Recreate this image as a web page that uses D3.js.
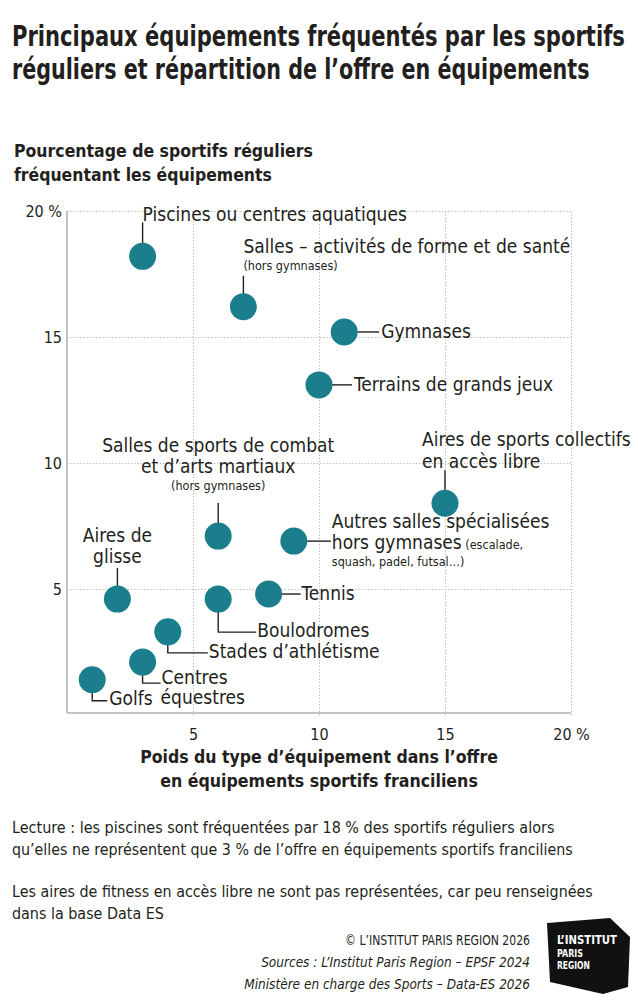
<!DOCTYPE html>
<html>
<head>
<meta charset="utf-8">
<script src="https://cdn.jsdelivr.net/npm/d3@7"></script>
<style>
  body { margin: 0; background: #fff; }
  text { font-family: "Liberation Sans Narrow", "Arial Narrow", "DejaVu Sans Condensed", sans-serif; fill: #231f20; }
</style>
</head>
<body>
<div id="chart"></div>
<script>
// equipment types, share of the offer (x, %) and share of regular users (y, %)
var names = [
  "Piscines", "Salles forme", "Gymnases", "Terrains de grands jeux",
  "Aires de sports collectifs", "Salles de combat", "Autres salles",
  "Aires de glisse", "Boulodromes", "Tennis", "Stades d'athlétisme",
  "Centres équestres", "Golfs"
];
var offerShare = [3, 7, 11, 10, 15, 6, 9, 2, 6, 8, 4, 3, 1];
var userShare = [18.2, 16.2, 15.2, 13.1, 8.4, 7.1, 6.9, 4.6, 4.6, 4.8, 3.3, 2.1, 1.4];
var xTicks = [5, 10, 15, 20];
var yTicks = [5, 10, 15, 20];

// label layout: leader path and text lines, relative to the dot centre
var labelLayout = [
  { leader: [[0, -13], [0, -34]], lines: [{ t: "Piscines ou centres aquatiques", dx: 0, dy: -35 }] },
  { leader: [[0, -13], [0, -31]], lines: [{ t: "Salles – activités de forme et de santé", dx: 0, dy: -54 },
                                         { t: "(hors gymnases)", dx: 0, dy: -37, small: true }] },
  { leader: [[13, 0], [35, 0]], lines: [{ t: "Gymnases", dx: 37, dy: 6 }] },
  { leader: [[13, 0], [33, 0]], lines: [{ t: "Terrains de grands jeux", dx: 35, dy: 6 }] },
  { leader: [[0, -13], [0, -33]], lines: [{ t: "Aires de sports collectifs", dx: -23, dy: -57 },
                                         { t: "en accès libre", dx: -23, dy: -35 }] },
  { leader: [[0, -13], [0, -33]], lines: [{ t: "Salles de sports de combat", dx: 0, dy: -84, mid: true },
                                         { t: "et d’arts martiaux", dx: 0, dy: -63, mid: true },
                                         { t: "(hors gymnases)", dx: 0, dy: -46, mid: true, small: true }] },
  { leader: [[13, 0], [37, 0]], lines: [{ t: "Autres salles spécialisées", dx: 38, dy: -13 },
                                       { t: "hors gymnases", dx: 38, dy: 8, extra: " (escalade," },
                                       { t: "squash, padel, futsal…)", dx: 38, dy: 25, small: true }] },
  { leader: [[0, -13], [0, -31]], lines: [{ t: "Aires de", dx: 0, dy: -57, mid: true },
                                         { t: "glisse", dx: 0, dy: -36, mid: true }] },
  { leader: [[0, 13], [0, 33], [38, 33]], lines: [{ t: "Boulodromes", dx: 39, dy: 38 }] },
  { leader: [[13, 0], [32, 0]], lines: [{ t: "Tennis", dx: 33, dy: 6 }] },
  { leader: [[0, 13], [0, 21], [40, 21]], lines: [{ t: "Stades d’athlétisme", dx: 41, dy: 26 }] },
  { leader: [[0, 13], [0, 21], [18, 21]], lines: [{ t: "Centres", dx: 19, dy: 22 },
                                                 { t: "équestres", dx: 18, dy: 42 }] },
  { leader: [[0, 13], [0, 21], [15, 21]], lines: [{ t: "Golfs", dx: 17, dy: 25 }] }
];

var svgWidth = 638;
var svgHeight = 1000;
var margin = { top: 211, right: 67, bottom: 285, left: 67 };
var width = svgWidth - margin.left - margin.right;
var height = 504;

var teal = "#1b7e8d";

var svg = d3.select("#chart")
  .append("svg")
  .attr("width", svgWidth)
  .attr("height", svgHeight);

// squeeze a text horizontally so it spans w pixels (the original uses a condensed face)
function fitText(parent, str, x, y, w, size, opts) {
  opts = opts || {};
  var t = parent.append("text")
    .attr("text-anchor", opts.anchor || "start")
    .style("font-size", size + "px")
    .style("font-weight", opts.weight || "normal")
    .style("font-style", opts.italic ? "italic" : "normal")
    .text(str);
  if (opts.fill) t.style("fill", opts.fill);
  var s = Math.min(1, w / t.node().getComputedTextLength());
  t.attr("transform", `translate(${x}, ${y}) scale(${s}, 1)`);
  return t;
}

// title
var title = ["Principaux équipements fréquentés par les sportifs",
             "réguliers et répartition de l’offre en équipements"];
title.forEach(function (t, i) {
  fitText(svg, t, 12, 46 + i * 33, i === 0 ? 613 : 578, 29, { weight: "bold" });
});

// y axis title
["Pourcentage de sportifs réguliers", "fréquentant les équipements"].forEach(function (t, i) {
  fitText(svg, t, 14, 157 + i * 24, i === 0 ? 299 : 258, 18, { weight: "bold" });
});

var chartGroup = svg.append("g")
  .attr("transform", `translate(${margin.left}, ${margin.top})`);

var xScale = d3.scaleLinear().domain([0, 20]).range([0, width]);
var yScale = d3.scaleLinear().domain([0, 20]).range([height, 0]);

// dotted grid
chartGroup.append("g")
  .attr("transform", `translate(0, ${height})`)
  .call(d3.axisBottom(xScale).tickValues(xTicks).tickSize(-height).tickFormat(""))
  .call(g => g.select(".domain").remove())
  .call(g => g.selectAll("line").attr("stroke", "#b4b4b4").attr("stroke-dasharray", "1.2,2"));
chartGroup.append("g")
  .call(d3.axisLeft(yScale).tickValues(yTicks).tickSize(-width).tickFormat(""))
  .call(g => g.select(".domain").remove())
  .call(g => g.selectAll("line").attr("stroke", "#b4b4b4").attr("stroke-dasharray", "1.2,2"));

// solid axis lines
chartGroup.append("line").attr("x1", 0).attr("x2", 0).attr("y1", 0).attr("y2", height - 2)
  .attr("stroke", "#b0b0b0").attr("stroke-width", 1.5);
chartGroup.append("line").attr("x1", 0).attr("x2", width).attr("y1", height - 2).attr("y2", height - 2)
  .attr("stroke", "#b0b0b0").attr("stroke-width", 1.5);

// tick labels
var bottomAxis = d3.axisBottom(xScale).tickValues(xTicks).tickSize(0).tickPadding(14)
  .tickFormat(d => d === 20 ? "20 %" : d);
chartGroup.append("g").attr("transform", `translate(0, ${height})`).call(bottomAxis)
  .call(g => g.select(".domain").remove())
  .call(g => g.selectAll("text").style("font-size", "16px").attr("fill", "#231f20")
    .style("font-family", null));
var leftAxis = d3.axisLeft(yScale).tickValues(yTicks).tickSize(0).tickPadding(5)
  .tickFormat(d => d === 20 ? "20 %" : d);
chartGroup.append("g").call(leftAxis)
  .call(g => g.select(".domain").remove())
  .call(g => g.selectAll("text").style("font-size", "16px").attr("fill", "#231f20")
    .style("font-family", null));

// points
var points = names.map((n, i) => ({ name: n, x: offerShare[i], y: userShare[i], lay: labelLayout[i] }));

var labels = chartGroup.selectAll(".lab")
  .data(points)
  .enter()
  .append("g")
  .attr("class", "lab")
  .attr("transform", d => `translate(${xScale(d.x)}, ${yScale(d.y)})`);

labels.append("path")
  .attr("d", d => d3.line()(d.lay.leader))
  .attr("fill", "none")
  .attr("stroke", "#231f20")
  .attr("stroke-width", 1.4);

labels.append("circle")
  .attr("r", 13.5)
  .attr("fill", teal);

labels.each(function (d) {
  var g = d3.select(this);
  d.lay.lines.forEach(function (l) {
    var t = g.append("text")
      .attr("x", l.dx)
      .attr("y", l.dy)
      .attr("text-anchor", l.mid ? "middle" : "start")
      .style("font-size", l.small ? "12.5px" : "19px")
      .text(l.t);
    if (l.extra) t.append("tspan").style("font-size", "12.5px").text(l.extra);
  });
});

// x axis title
["Poids du type d’équipement dans l’offre", "en équipements sportifs franciliens"].forEach(function (t, i) {
  fitText(svg, t, 319, 763 + i * 24, i === 0 ? 358 : 318, 18, { anchor: "middle", weight: "bold" });
});

// notes
var notes = [
  ["Lecture : les piscines sont fréquentées par 18 % des sportifs réguliers alors", 833, 548],
  ["qu’elles ne représentent que 3 % de l’offre en équipements sportifs franciliens", 855, 561],
  ["Les aires de fitness en accès libre ne sont pas représentées, car peu renseignées", 897, 581],
  ["dans la base Data ES", 919, 152]
];
notes.forEach(function (n) {
  fitText(svg, n[0], 12, n[1], n[2], 16);
});

// credits
var credits = [
  ["© L’INSTITUT PARIS REGION 2026", 945, 185, false],
  ["Sources : L’Institut Paris Region – EPSF 2024", 967, 269, true],
  ["Ministère en charge des Sports – Data-ES 2026", 989, 286, true]
];
credits.forEach(function (c) {
  fitText(svg, c[0], 530, c[1], c[2], 14, { anchor: "end", italic: c[3] });
});

// logo
svg.append("path")
  .attr("d", "M547,923 L610,918 L630,937 L628,987 L603,994 L550,982 Z")
  .attr("fill", "#111");
[["L’INSTITUT", 944, 13, 60], ["PARIS", 957, 11, 26], ["REGION", 969, 11, 33]].forEach(function (l) {
  fitText(svg, l[0], 557, l[1], l[3], l[2], { weight: "bold", fill: "#fff" });
});
</script>
</body>
</html>
